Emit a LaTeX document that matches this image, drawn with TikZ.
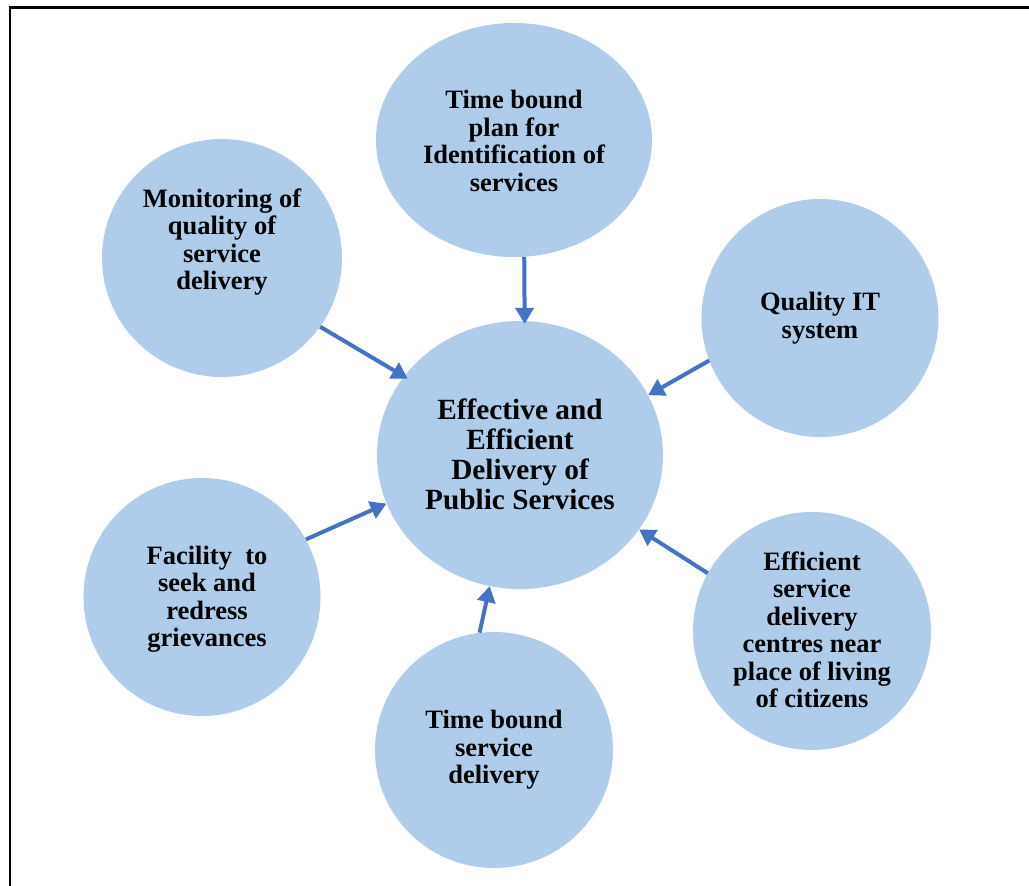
\documentclass[tikz,border=0pt]{standalone}
\usepackage{fontspec}
\setmainfont{Liberation Serif}
\usetikzlibrary{arrows.meta,shapes.geometric}
\definecolor{bubble}{RGB}{175,205,234}
\definecolor{arrowblue}{RGB}{68,114,196}
\tikzset{
  bub/.style={ellipse, fill=bubble, inner sep=0pt, align=center},
  lbl/.style={font=\bfseries\fontsize{26.5}{27.5}\selectfont, align=center, inner sep=0pt},
  conn/.style={draw=arrowblue, line width=4pt, -{Triangle[length=16pt,width=18pt]}},
}
\begin{document}
\begin{tikzpicture}[x=1pt,y=-1pt]
\useasboundingbox (0,0) rectangle (1029,886);
\draw[line width=2.5pt] (10,886) -- (10,7.5) -- (1029,7.5);
% bubbles
\node[bub, minimum width=286pt, minimum height=268pt] (ctr) at (520,455) {};
\node[bub, minimum width=276pt, minimum height=234pt] (top) at (514,140) {};
\node[bub, minimum width=240pt, minimum height=238pt] (mon) at (222,258) {};
\node[bub, minimum width=237pt, minimum height=238pt] (qual) at (820,318) {};
\node[bub, minimum width=237pt, minimum height=238pt] (fac) at (202,597) {};
\node[bub, minimum width=238pt, minimum height=236pt] (bot) at (494,750) {};
\node[bub, minimum width=238pt, minimum height=238pt] (eff) at (812,631) {};
% labels
\node[lbl, font=\bfseries\fontsize{29.3}{30}\selectfont] (tctr) at (520,454) {Effective and\\Efficient\\Delivery of\\Public Services};
\node[lbl] (ttop) at (514,141) {Time bound\\plan for\\Identification of\\services};
\node[lbl] (tmon) at (222,242) {Monitoring of\\quality of\\service\\delivery};
\node[lbl] (tqual) at (820,318) {Quality IT\\system};
\node[lbl] (tfac) at (207,599) {Facility~ to\\seek and\\redress\\grievances};
\node[lbl] (tbot) at (494,750) {Time bound\\service\\delivery};
\node[lbl] (teff) at (812,630) {Efficient\\service\\delivery\\centres near\\place of living\\of citizens};
% connectors
\draw[conn] (top.275) -- ([yshift=-3pt]ctr.88);
\draw[conn] (mon.325) -- ([xshift=4pt,yshift=-2pt]ctr.146);
\draw[conn] (qual.201) -- (ctr.25);
\draw[conn] (fac.29) -- (ctr.200);
\draw[conn] (bot.97) -- (ctr.257);
\draw[conn] (eff.151.5) -- (ctr.328);
\end{tikzpicture}
\end{document}
